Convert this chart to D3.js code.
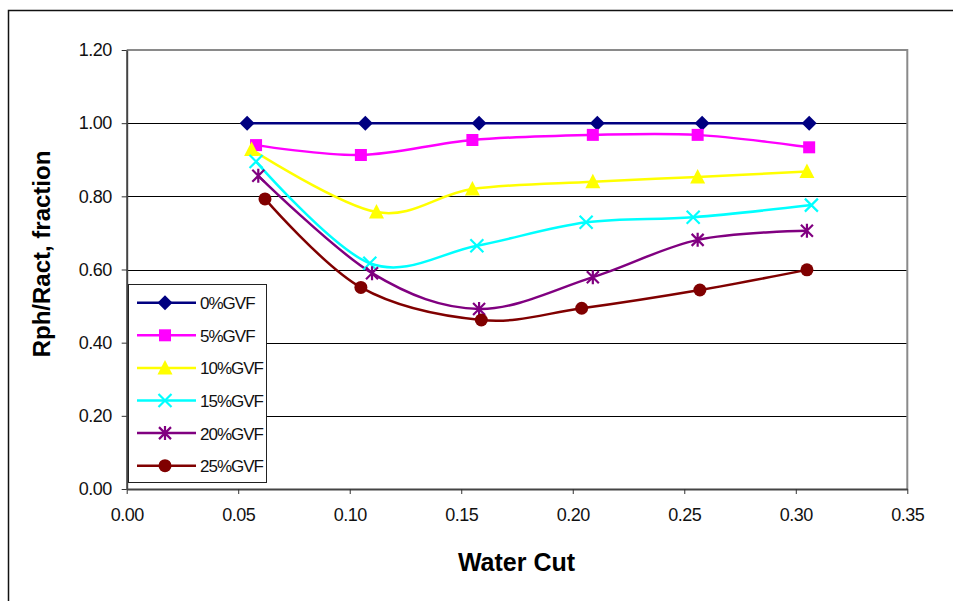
<!DOCTYPE html>
<html>
<head>
<meta charset="utf-8">
<script src="https://cdn.jsdelivr.net/npm/d3@7"></script>
<style>
  html, body { margin: 0; padding: 0; background: #fff; }
  svg { display: block; font-family: Arial, "Liberation Sans", sans-serif; }
</style>
</head>
<body>
<svg id="chart" width="953" height="601"></svg>
<script>
// ---- data ----
const seriesNames = ["0%GVF", "5%GVF", "10%GVF", "15%GVF", "20%GVF", "25%GVF"];
const wc0  = [0.054, 0.107, 0.158, 0.211, 0.258, 0.306];
const r0   = [1.000, 1.000, 1.000, 1.000, 1.000, 1.000];
const wc5  = [0.058, 0.105, 0.155, 0.209, 0.256, 0.306];
const r5   = [0.940, 0.913, 0.954, 0.968, 0.968, 0.934];
const wc10 = [0.056, 0.112, 0.155, 0.209, 0.256, 0.305];
const r10  = [0.928, 0.757, 0.820, 0.840, 0.853, 0.868];
const wc15 = [0.058, 0.109, 0.157, 0.206, 0.254, 0.307];
const r15  = [0.895, 0.617, 0.665, 0.729, 0.743, 0.776];
const wc20 = [0.059, 0.110, 0.158, 0.209, 0.256, 0.305];
const r20  = [0.856, 0.590, 0.492, 0.579, 0.681, 0.706];
const wc25 = [0.062, 0.105, 0.159, 0.204, 0.257, 0.305];
const r25  = [0.793, 0.551, 0.462, 0.494, 0.544, 0.599];
const xTicks = [0.00, 0.05, 0.10, 0.15, 0.20, 0.25, 0.30, 0.35];
const yTicks = [0.00, 0.20, 0.40, 0.60, 0.80, 1.00, 1.20];
const colors = ["#000080", "#FF00FF", "#FFFF00", "#00FFFF", "#800080", "#800000"];
const markers = ["diamond", "square", "triangle", "cross", "asterisk", "circle"];

const seriesX = [wc0, wc5, wc10, wc15, wc20, wc25];
const seriesY = [r0, r5, r10, r15, r20, r25];
const series = seriesNames.map((name, i) => ({
  name, color: colors[i], marker: markers[i],
  points: seriesX[i].map((x, j) => ({ x, y: seriesY[i][j] }))
}));

// ---- layout ----
const svg = d3.select("#chart");
const L = 126.7, R = 907.3, T = 50, B = 489;
const x = d3.scaleLinear().domain([0, 0.35]).range([L, R]);
const y = d3.scaleLinear().domain([0, 1.2]).range([B, T]);

// outer frame
svg.append("rect").attr("x", 8.5).attr("y", 10.5).attr("width", 960).attr("height", 620)
  .attr("fill", "#fff").attr("stroke", "#111").attr("stroke-width", 1.5);

// plot area
svg.append("rect").attr("x", L).attr("y", T).attr("width", R - L).attr("height", B - T)
  .attr("fill", "#fff");

// gridlines
svg.append("g").selectAll("line").data(yTicks.filter(d => d > 0 && d < 1.2)).join("line")
  .attr("x1", L).attr("x2", R).attr("y1", d => Math.round(y(d)) + 0.5).attr("y2", d => Math.round(y(d)) + 0.5)
  .attr("stroke", "#000").attr("stroke-width", 1);

// top & right border
svg.append("path")
  .attr("d", `M${L},${T} H${R} V${B}`)
  .attr("fill", "none").attr("stroke", "#8a8a8a").attr("stroke-width", 2);

// axes
const xAxis = d3.axisBottom(x).tickValues(xTicks).tickFormat(d3.format(".2f")).tickSizeInner(5).tickSizeOuter(0).tickPadding(10);
const yAxis = d3.axisLeft(y).tickValues(yTicks).tickFormat(d3.format(".2f")).tickSizeInner(5).tickSizeOuter(0).tickPadding(10);

const gx = svg.append("g").attr("transform", `translate(0,${B})`).call(xAxis);
const gy = svg.append("g").attr("transform", `translate(${L},0)`).call(yAxis);
[gx, gy].forEach(g => {
  g.select(".domain").attr("stroke", "#444").attr("stroke-width", 2);
  g.selectAll(".tick line").attr("stroke", "#333").attr("stroke-width", 1);
  g.selectAll(".tick text").attr("fill", "#111").attr("font-size", 18)
    .attr("font-family", "Arial, 'Liberation Sans', sans-serif").attr("letter-spacing", -0.5);
});
gx.selectAll(".tick text").attr("dy", "0.95em");
gy.selectAll(".tick text").attr("x", -15);

// axis titles
svg.append("text").attr("x", (L + R) / 2 - 0.5).attr("y", 571)
  .attr("text-anchor", "middle").attr("font-size", 25).attr("font-weight", "bold")
  .attr("fill", "#000").text("Water Cut");
svg.append("text").attr("transform", `translate(50,254) rotate(-90)`)
  .attr("text-anchor", "middle").attr("font-size", 24).attr("font-weight", "bold")
  .attr("fill", "#000").text("Rph/Ract, fraction");

// marker drawing
function drawMarker(g, type, color) {
  switch (type) {
    case "diamond":
      g.append("path").attr("d", "M0,-7.5 L7.5,0 L0,7.5 L-7.5,0 Z").attr("fill", color);
      break;
    case "square":
      g.append("rect").attr("x", -6).attr("y", -6).attr("width", 12).attr("height", 12).attr("fill", color);
      break;
    case "triangle":
      g.append("path").attr("d", "M0,-8 L7.5,6.5 L-7.5,6.5 Z").attr("fill", color);
      break;
    case "cross":
      g.append("path").attr("d", "M-6.5,-6.5 L6.5,6.5 M-6.5,6.5 L6.5,-6.5")
        .attr("stroke", color).attr("stroke-width", 2.2).attr("fill", "none");
      break;
    case "asterisk":
      g.append("path").attr("d", "M-6,-6 L6,6 M-6,6 L6,-6 M0,-7 L0,7")
        .attr("stroke", color).attr("stroke-width", 2.2).attr("fill", "none");
      break;
    case "circle":
      g.append("circle").attr("r", 6.5).attr("fill", color);
      break;
  }
}

// lines
const line = d3.line().x(d => x(d.x)).y(d => y(d.y)).curve(d3.curveCardinal.tension(0));
const plot = svg.append("g");
series.forEach(s => {
  plot.append("path").datum(s.points).attr("d", line)
    .attr("fill", "none").attr("stroke", s.color).attr("stroke-width", 2.5)
    .attr("stroke-linejoin", "round");
});
series.forEach(s => {
  s.points.forEach(p => {
    const g = plot.append("g").attr("transform", `translate(${x(p.x)},${y(p.y)})`);
    drawMarker(g, s.marker, s.color);
  });
});

// legend
const lg = svg.append("g");
lg.append("rect").attr("x", 128.5).attr("y", 284.5).attr("width", 138).attr("height", 198)
  .attr("fill", "#fff").attr("stroke", "#222").attr("stroke-width", 1);
series.forEach((s, i) => {
  const cy = 302.7 + i * 32.6;
  const g = lg.append("g");
  g.append("line").attr("x1", 137).attr("x2", 196).attr("y1", cy).attr("y2", cy)
    .attr("stroke", s.color).attr("stroke-width", 2.5);
  const m = g.append("g").attr("transform", `translate(165,${cy})`);
  drawMarker(m, s.marker, s.color);
  g.append("text").attr("x", 200).attr("y", cy + 6.5).attr("font-size", 17)
    .attr("letter-spacing", -1).attr("fill", "#111").text(s.name);
});
</script>
</body>
</html>
